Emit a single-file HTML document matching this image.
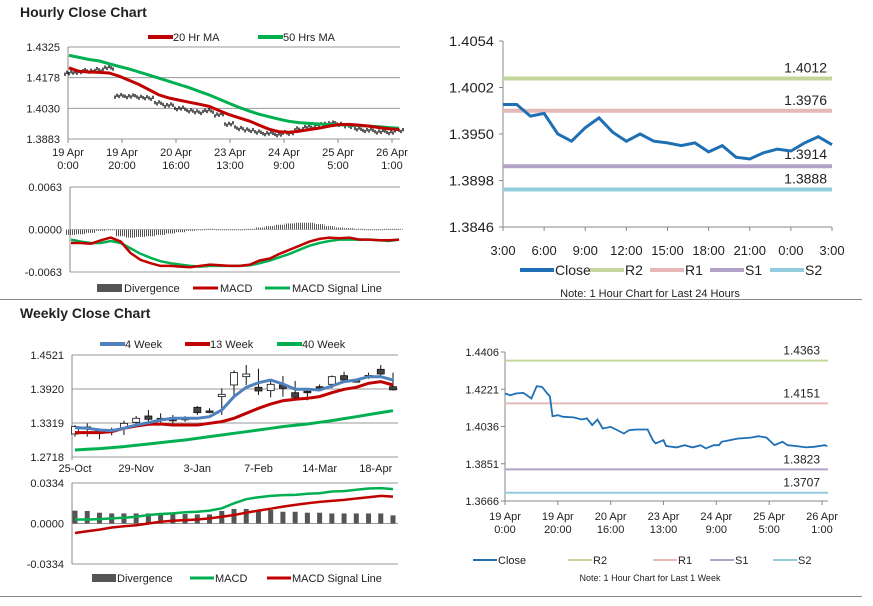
<!DOCTYPE html>
<html><head><meta charset="utf-8"><style>
body{margin:0;background:#fff;width:873px;height:601px;overflow:hidden}
svg text{font-family:"Liberation Sans",sans-serif;fill:#222}
</style></head><body>
<svg id="c" width="873" height="601" xmlns="http://www.w3.org/2000/svg">
<defs><pattern id="stripe" width="2" height="4" patternUnits="userSpaceOnUse"><rect width="1" height="4" fill="#555"/></pattern></defs>
<text x="20" y="17" font-size="14" font-weight="bold">Hourly Close Chart</text>
<text x="20" y="318" font-size="14" font-weight="bold">Weekly Close Chart</text>
<line x1="0" y1="299.5" x2="862" y2="299.5" stroke="#888"/>
<line x1="0" y1="596.5" x2="862" y2="596.5" stroke="#888"/>
</svg>
<script>
// ---- Hourly price (top-left) ----
const hClose=[1.4200,1.4205,1.4210,1.4215,1.4225,1.4090,1.4088,1.4085,1.4080,1.4055,1.4045,1.4030,1.4020,1.4012,1.4018,1.4000,1.3955,1.3935,1.3925,1.3915,1.3910,1.3905,1.3912,1.3930,1.3940,1.3950,1.3958,1.3955,1.3945,1.3930,1.3925,1.3918,1.3915,1.3925];
const hMA20=[1.4225,1.4208,1.4205,1.4203,1.4200,1.4185,1.4165,1.4145,1.4120,1.4095,1.4080,1.4070,1.4060,1.4050,1.4040,1.4020,1.4000,1.3985,1.3970,1.3950,1.3930,1.3918,1.3915,1.3920,1.3928,1.3935,1.3945,1.3952,1.3953,1.3950,1.3945,1.3938,1.3932,1.3928];
const hMA50=[1.4285,1.4275,1.4265,1.4258,1.4245,1.4232,1.4220,1.4205,1.4190,1.4175,1.4160,1.4145,1.4130,1.4112,1.4095,1.4075,1.4055,1.4035,1.4018,1.4002,1.3990,1.3978,1.3968,1.3962,1.3958,1.3955,1.3953,1.3951,1.3950,1.3948,1.3945,1.3942,1.3938,1.3935];
const hTicks=[1.4325,1.4178,1.4030,1.3883];
const hXLabels=[["19 Apr","0:00"],["19 Apr","20:00"],["20 Apr","16:00"],["23 Apr","13:00"],["24 Apr","9:00"],["25 Apr","5:00"],["26 Apr","1:00"]];
const hMACD=[-0.0020,-0.0020,-0.0021,-0.0016,-0.0012,-0.0018,-0.0035,-0.0045,-0.0050,-0.0054,-0.0054,-0.0055,-0.0056,-0.0054,-0.0052,-0.0053,-0.0054,-0.0054,-0.0052,-0.0046,-0.0043,-0.0036,-0.0030,-0.0024,-0.0018,-0.0014,-0.0012,-0.0013,-0.0012,-0.0015,-0.0015,-0.0016,-0.0016,-0.0015];
const hSignal=[-0.0015,-0.0018,-0.0020,-0.0020,-0.0017,-0.0020,-0.0028,-0.0036,-0.0042,-0.0047,-0.0050,-0.0052,-0.0054,-0.0055,-0.0054,-0.0054,-0.0054,-0.0054,-0.0053,-0.0050,-0.0046,-0.0041,-0.0036,-0.0030,-0.0024,-0.0020,-0.0017,-0.0015,-0.0015,-0.0015,-0.0015,-0.0016,-0.0017,-0.0015];
const hDiv=[-0.0008,-0.0007,-0.0005,-0.0002,0.0000,-0.0010,-0.0012,-0.0011,-0.0010,-0.0008,-0.0006,-0.0004,-0.0002,0.0000,0.0001,0.0000,0.0000,-0.0001,0.0001,0.0003,0.0005,0.0007,0.0009,0.0010,0.0010,0.0008,0.0005,0.0003,0.0002,0.0001,0.0000,0.0000,0.0001,0.0001];
const hMacdTicks=[0.0063,0.0000,-0.0063];
// ---- Hourly 24h (top-right) ----
const dClose=[1.3983,1.3983,1.3970,1.3973,1.3950,1.3942,1.3957,1.3968,1.3952,1.3942,1.3950,1.3942,1.3940,1.3937,1.3940,1.3930,1.3937,1.3924,1.3922,1.3929,1.3933,1.3931,1.3940,1.3947,1.3938];
const dLevels=[1.4012,1.3976,1.3914,1.3888];
const dLevelNames=["R2","R1","S1","S2"];
const dTicks=[1.4054,1.4002,1.3950,1.3898,1.3846];
const dXLabels=["3:00","6:00","9:00","12:00","15:00","18:00","21:00","0:00","3:00"];
// ---- Weekly (bottom-left) ----
const wCats=["25-Oct","29-Nov","3-Jan","7-Feb","14-Mar","18-Apr"];
const wOpen=[1.3125,1.3250,1.3200,1.3190,1.3225,1.3331,1.3443,1.3402,1.3384,1.3402,1.3596,1.3532,1.3785,1.3991,1.4138,1.3950,1.3891,1.3991,1.3855,1.3880,1.3961,1.4003,1.4156,1.4068,1.4160,1.4268,1.3961];
const wClose=[1.3255,1.3237,1.3166,1.3180,1.3313,1.3402,1.3384,1.3395,1.3380,1.3400,1.3502,1.3525,1.3826,1.4209,1.4185,1.3885,1.4003,1.3932,1.3773,1.3875,1.3955,1.4138,1.4079,1.4062,1.4150,1.4185,1.3905];
const wHigh=[1.3284,1.3313,1.3225,1.3237,1.3361,1.3443,1.3549,1.3490,1.3461,1.3440,1.3620,1.3579,1.3932,1.4250,1.4344,1.4280,1.4079,1.4150,1.4062,1.3900,1.4000,1.4160,1.4226,1.4100,1.4209,1.4344,1.4209];
const wLow=[1.3078,1.3078,1.3031,1.3100,1.3107,1.3284,1.3343,1.3325,1.3313,1.3340,1.3461,1.3490,1.3461,1.3814,1.3991,1.3814,1.3773,1.3785,1.3726,1.3720,1.3900,1.3932,1.4050,1.4040,1.4100,1.4160,1.3891];
const w4=[1.3237,1.3225,1.3196,1.3184,1.3225,1.3284,1.3325,1.3372,1.3402,1.3402,1.3402,1.3431,1.3549,1.3785,1.3950,1.4032,1.4079,1.4009,1.3914,1.3914,1.3903,1.3973,1.4050,1.4079,1.4138,1.4138,1.4079];
const w13=[1.3149,1.3149,1.3149,1.3166,1.3225,1.3266,1.3296,1.3302,1.3284,1.3284,1.3284,1.3313,1.3343,1.3402,1.3490,1.3579,1.3655,1.3714,1.3738,1.3755,1.3785,1.3855,1.3914,1.3950,1.4020,1.4050,1.3991];
const w40=[1.2842,1.2854,1.2866,1.2884,1.2901,1.2925,1.2948,1.2972,1.2996,1.3019,1.3049,1.3078,1.3107,1.3137,1.3166,1.3196,1.3225,1.3255,1.3278,1.3302,1.3331,1.3361,1.3396,1.3431,1.3467,1.3502,1.3537];
const wTicks=[1.4521,1.3920,1.3319,1.2718];
const wMACD=[.0033,.0033,.0036,.0042,.0047,.0056,.0070,.0078,.0083,.0092,.0097,.0106,.0125,.0167,.0200,.0217,.0228,.0234,.0236,.0245,.0250,.0264,.0267,.0278,.0289,.0292,.0284];
const wSignal=[-.0078,-.0064,-.0050,-.0033,-.0022,-.0014,0,.0014,.0022,.0028,.0033,.0042,.0056,.0070,.0089,.0106,.0122,.0139,.0153,.0167,.0178,.0186,.0195,.0206,.0217,.0228,.0222];
const wDiv=[.0106,.0103,.0089,.0083,.0083,.0083,.0083,.0083,.0078,.0078,.0075,.0075,.0103,.0120,.0120,.0111,.0111,.0097,.0097,.0089,.0089,.0083,.0083,.0083,.0083,.0083,.0067];
const wMacdTicks=[0.0334,0.0000,-0.0334];
// ---- Weekly hourly close (bottom-right) ----
const bHours=[0,2,4,7,10,12,14,16,17,18,20,22,26,29,31,33,35,37,40,42,45,47,50,54,56,57,60,61,65,68,71,74,76,79,81,82,85,88,93,96,99,102,105,107,110,114,117,121,122];
const bClose=[1.4200,1.4191,1.4200,1.4203,1.4175,1.4236,1.4233,1.4200,1.4186,1.4087,1.4092,1.4084,1.4081,1.4071,1.4076,1.4043,1.4071,1.4026,1.4034,1.4021,1.4001,1.4018,1.4021,1.4021,1.3968,1.3952,1.3968,1.3939,1.3932,1.3943,1.3932,1.3943,1.3927,1.3943,1.3943,1.3960,1.3968,1.3976,1.3981,1.3988,1.3981,1.3943,1.3960,1.3943,1.3939,1.3932,1.3935,1.3943,1.3939];
const bLevels=[1.4363,1.4151,1.3823,1.3707];
const bTicks=[1.4406,1.4221,1.4036,1.3851,1.3666];
const bXHours=[0,20,40,60,80,100,120];

const svg=document.getElementById('c');
const NS='http://www.w3.org/2000/svg';
function mk(tag,attrs,parent){const e=document.createElementNS(NS,tag);for(const k in attrs)e.setAttribute(k,attrs[k]);(parent||svg).appendChild(e);return e;}
function lin(d0,d1,r0,r1){return v=>r0+(v-d0)/(d1-d0)*(r1-r0);}
function pathD(xs,ys){return xs.map((x,i)=>(i?'L':'M')+x.toFixed(1)+','+ys[i].toFixed(1)).join('');}
const C={red:'#c00000',green:'#00b050',blue:'#4f81bd',close:'#1f6fb5',r2:'#c3d69b',r1:'#e6b9b8',s1:'#b3a2c7',s2:'#93cddd'};

// ===== Panel 1: hourly price =====
{
const x=i=>lin(0,hClose.length-1,69,399)(i), y=lin(1.4325,1.3883,47,139);
hTicks.forEach((t,i)=>{
 const g=mk('line',{x1:68,x2:400,y1:y(t),y2:y(t),stroke:'#999','stroke-width':1});
 
 
 const tx=mk('text',{x:60,y:y(t)+4,'font-size':11,'text-anchor':'end'});tx.textContent=t.toFixed(4);
 
 
});
const ax=mk('line',{x1:68,x2:68,y1:47,y2:142,stroke:'#888'});


hXLabels.forEach((l,i)=>{const xx=68+i*54;
 const t=mk('text',{x:xx,y:156,'font-size':11,'text-anchor':'middle'});t.innerHTML='<tspan x="'+xx+'">'+l[0]+'</tspan><tspan x="'+xx+'" dy="13">'+l[1]+'</tspan>';
 
 
 mk('line',{x1:xx,x2:xx,y1:139,y2:143,stroke:'#888'});
});
hClose.forEach((v,i)=>{for(let k=0;k<5;k++){const xx=x(i)+k*2-4;const off=((i*7+k*3)%5-2)*0.0003;
 const b=mk('line',{x1:xx,x2:xx,y1:y(v+off+0.0008),y2:y(v+off-0.0008),stroke:'#000','stroke-width':1.3});
 
 }});
const xs=hClose.map((_,i)=>x(i));
const p1=mk('path',{d:pathD(xs,hMA50.map(y)),fill:'none',stroke:C.green,'stroke-width':3});


const p2=mk('path',{d:pathD(xs,hMA20.map(y)),fill:'none',stroke:C.red,'stroke-width':3});


[[148,'20 Hr MA',C.red,'legend-20hr-ma'],[258,'50 Hrs MA',C.green,'legend-50hrs-ma']].forEach(a=>{
 mk('line',{x1:a[0],x2:a[0]+25,y1:37,y2:37,stroke:a[2],'stroke-width':4});
 const t=mk('text',{x:a[0]+25,y:41,'font-size':11});t.textContent=a[1];
 
 
});
// MACD
const my=lin(0.0063,-0.0063,187,272), mx=i=>lin(0,hMACD.length-1,71,399)(i);
hMacdTicks.forEach(t=>{const tx=mk('text',{x:62,y:my(t)+4,'font-size':11,'text-anchor':'end'});tx.textContent=t.toFixed(4);
 
 
 mk('line',{x1:70,x2:400,y1:my(t),y2:my(t),stroke:t===0?'#ccc':'#999'});});
mk('line',{x1:70,x2:70,y1:187,y2:272,stroke:'#888'});
hDiv.forEach((v,i)=>{const y0=my(0),y1=my(v);
 const r=mk('rect',{x:mx(i)-5,y:Math.min(y0,y1),width:10,height:Math.max(Math.abs(y1-y0),0.8),fill:'url(#stripe)'});
 
 });
const mxs=hMACD.map((_,i)=>mx(i));
const p3=mk('path',{d:pathD(mxs,hSignal.map(my)),fill:'none',stroke:C.green,'stroke-width':2.5});


const p4=mk('path',{d:pathD(mxs,hMACD.map(my)),fill:'none',stroke:C.red,'stroke-width':2.5});


[[97,'Divergence','#555',8,'legend-divergence'],[193,'MACD',C.red,3,'legend-macd'],[265,'MACD Signal Line',C.green,3,'legend-signal']].forEach(a=>{
 mk('line',{x1:a[0],x2:a[0]+25,y1:288,y2:288,stroke:a[2],'stroke-width':a[3]});
 const t=mk('text',{x:a[0]+27,y:292,'font-size':11});t.textContent=a[1];
 
 });
}
// ===== Panel 2: 24h =====
{
const x=lin(0,24,503,832), y=lin(1.4054,1.3846,41,227);
mk('line',{x1:503,x2:503,y1:41,y2:227,stroke:'#888'});
mk('line',{x1:503,x2:832,y1:227,y2:227,stroke:'#888'});
dTicks.forEach(t=>{mk('line',{x1:499,x2:503,y1:y(t),y2:y(t),stroke:'#888'});
 const tx=mk('text',{x:494,y:y(t)+5,'font-size':14,'text-anchor':'end',textLength:45,lengthAdjust:'spacingAndGlyphs'});tx.textContent=t.toFixed(4);
 
 });
dXLabels.forEach((l,i)=>{const xx=x(i*3);mk('line',{x1:xx,x2:xx,y1:227,y2:231,stroke:'#888'});
 const t=mk('text',{x:xx,y:255,'font-size':13,'text-anchor':'middle'});t.textContent=l;
 
 });
const cols=[C.r2,C.r1,C.s1,C.s2];
dLevels.forEach((v,i)=>{const l=mk('line',{x1:503,x2:832,y1:y(v),y2:y(v),stroke:cols[i],'stroke-width':4});
 
 
 const t=mk('text',{x:827,y:y(v)+(i==2?-7:-6),'font-size':14,'text-anchor':'end'});t.textContent=v.toFixed(4);
 
 });
const p=mk('path',{d:pathD(dClose.map((_,i)=>x(i)),dClose.map(y)),fill:'none',stroke:C.close,'stroke-width':3});


[[520,'Close',C.close],[590,'R2',C.r2],[650,'R1',C.r1],[710,'S1',C.s1],[770,'S2',C.s2]].forEach(a=>{
 mk('line',{x1:a[0],x2:a[0]+34,y1:270,y2:270,stroke:a[2],'stroke-width':4});
 const t=mk('text',{x:a[0]+35,y:275,'font-size':14});t.textContent=a[1];
 
 });
const n=mk('text',{x:650,y:297,'font-size':11,'text-anchor':'middle'});n.textContent='Note: 1 Hour Chart for Last 24 Hours';


}
// ===== Panel 3: weekly =====
{
const x=lin(0,wOpen.length-1,75,393), y=lin(1.4521,1.2718,355,457);
wTicks.forEach(t=>{mk('line',{x1:72,x2:398,y1:y(t),y2:y(t),stroke:'#999'});
 const tx=mk('text',{x:64,y:y(t)+4,'font-size':11,'text-anchor':'end'});tx.textContent=t.toFixed(4);
 
 });
mk('line',{x1:72,x2:72,y1:355,y2:460,stroke:'#888'});
wCats.forEach((c,i)=>{const xx=x(i*5)+[0,0,0,0,0,-5][i];
 const t=mk('text',{x:xx,y:472,'font-size':11,'text-anchor':'middle'});t.textContent=c;
 
 });
wOpen.forEach((o,i)=>{const c=wClose[i],xx=x(i);
 const w=mk('line',{x1:xx,x2:xx,y1:y(wHigh[i]),y2:y(wLow[i]),stroke:'#111'});
 
 
 const r=mk('rect',{x:xx-3.5,y:Math.min(y(o),y(c)),width:7,height:Math.max(Math.abs(y(o)-y(c)),1.5),fill:c>=o?'#fff':'#444',stroke:'#111','stroke-width':0.8});
 
 });
const xs=wOpen.map((_,i)=>x(i));
[[w40,C.green,'weekly-40wk-line'],[w13,C.red,'weekly-13wk-line'],[w4,C.blue,'weekly-4wk-line']].forEach(a=>{
 const p=mk('path',{d:pathD(xs,a[0].map(y)),fill:'none',stroke:a[1],'stroke-width':3});
 
 });
[[100,'4 Week',C.blue],[185,'13 Week',C.red],[277,'40 Week',C.green]].forEach(a=>{
 mk('line',{x1:a[0],x2:a[0]+25,y1:344,y2:344,stroke:a[2],'stroke-width':4});
 const t=mk('text',{x:a[0]+25,y:348,'font-size':11});t.textContent=a[1];
 
 });
const my=lin(0.0334,-0.0334,483,564);
wMacdTicks.forEach(t=>{const tx=mk('text',{x:64,y:my(t)+4,'font-size':11,'text-anchor':'end'});tx.textContent=t.toFixed(4);
 
 
 mk('line',{x1:72,x2:398,y1:my(t),y2:my(t),stroke:'#999'});});
mk('line',{x1:72,x2:72,y1:483,y2:564,stroke:'#888'});
wDiv.forEach((v,i)=>{const r=mk('rect',{x:x(i)-2.5,y:my(v),width:5,height:my(0)-my(v),fill:'#555'});
 
 });
const p1=mk('path',{d:pathD(xs,wMACD.map(my)),fill:'none',stroke:C.green,'stroke-width':2.5});


const p2=mk('path',{d:pathD(xs,wSignal.map(my)),fill:'none',stroke:C.red,'stroke-width':2.5});


[[92,'Divergence','#555',8],[190,'MACD',C.green,3],[267,'MACD Signal Line',C.red,3]].forEach(a=>{
 mk('line',{x1:a[0],x2:a[0]+24,y1:578,y2:578,stroke:a[2],'stroke-width':a[3]});
 const t=mk('text',{x:a[0]+25,y:582,'font-size':11});t.textContent=a[1];
 
 });
}
// ===== Panel 4: 1-week hourly =====
{
const x=lin(0,120,505,822), y=lin(1.4406,1.3666,352,501);
mk('line',{x1:505,x2:505,y1:352,y2:501,stroke:'#888'});
mk('line',{x1:505,x2:828,y1:501,y2:501,stroke:'#888'});
bTicks.forEach(t=>{mk('line',{x1:501,x2:505,y1:y(t),y2:y(t),stroke:'#888'});
 const tx=mk('text',{x:499,y:y(t)+4,'font-size':11,'text-anchor':'end'});tx.textContent=t.toFixed(4);
 
 });
bXHours.forEach((h,i)=>{const xx=x(h),l=hXLabels[i];mk('line',{x1:xx,x2:xx,y1:501,y2:505,stroke:'#888'});
 const t=mk('text',{x:xx,y:520,'font-size':11,'text-anchor':'middle'});t.innerHTML='<tspan x="'+xx+'">'+l[0]+'</tspan><tspan x="'+xx+'" dy="13">'+l[1]+'</tspan>';
 
 });
const cols=[C.r2,C.r1,C.s1,C.s2];
bLevels.forEach((v,i)=>{const l=mk('line',{x1:505,x2:828,y1:y(v),y2:y(v),stroke:cols[i],'stroke-width':2});
 
 
 const t=mk('text',{x:820,y:y(v)-6,'font-size':12,'text-anchor':'end'});t.textContent=v.toFixed(4);
 
 });
const p=mk('path',{d:pathD(bHours.map(x),bClose.map(y)),fill:'none',stroke:C.close,'stroke-width':1.8});


[[473,'Close',C.close],[568,'R2',C.r2],[653,'R1',C.r1],[710,'S1',C.s1],[773,'S2',C.s2]].forEach(a=>{
 mk('line',{x1:a[0],x2:a[0]+24,y1:560,y2:560,stroke:a[2],'stroke-width':2});
 const t=mk('text',{x:a[0]+25,y:564,'font-size':11});t.textContent=a[1];
 
 });
const n=mk('text',{x:650,y:581,'font-size':9,'text-anchor':'middle'});n.textContent='Note: 1 Hour Chart for Last 1 Week';


}
</script>
</body></html>
